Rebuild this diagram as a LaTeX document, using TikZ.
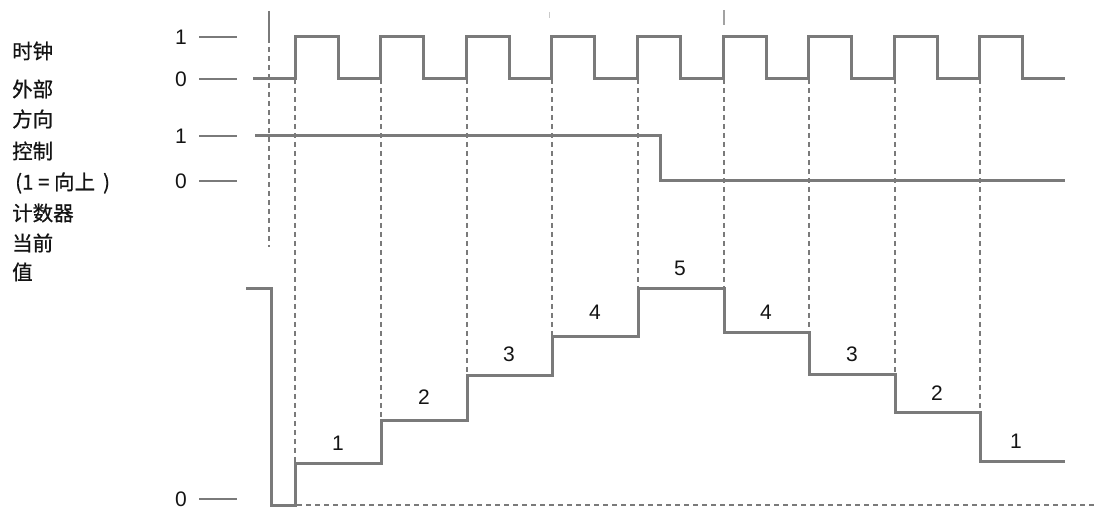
\documentclass[tikz,border=0pt]{standalone}
\usepackage{fontspec}
\setmainfont{Liberation Sans}
\newfontfamily\cjk[FakeBold=0.7]{Noto Sans CJK SC}
\usetikzlibrary{positioning}
\definecolor{sigray}{HTML}{7A7A7A}
\definecolor{txtblack}{HTML}{141414}

\begin{document}
\begin{tikzpicture}[x=1pt,y=-1pt,
  signal/.style={draw=sigray,line width=3pt},
  levelmark/.style={draw=sigray,line width=1.3pt},
  guide/.style={draw=sigray,line width=1.2pt,dash pattern=on 5pt off 4pt},
  caption/.style={anchor=west,font=\cjk\fontsize{20.5}{24}\selectfont,text=txtblack,inner sep=0pt},
  lvl/.style={font=\fontsize{21}{24}\selectfont,text=txtblack,inner sep=0pt},
]
  \useasboundingbox (0,0) rectangle (1095,510);
  % signal names on the left
  \node[caption] (clk)   at (12,51)  {时钟};
  \node[caption] (ext)   at (12,89)  {外部};
  \node[caption] (dir)   at (12,119) {方向};
  \node[caption] (ctl)   at (12,151) {控制};
  \node[caption] (up)    at (15,183) {(1 = 向上\ \,)};
  \node[caption] (cnt)   at (12,213) {计数器};
  \node[caption] (cur)   at (12,243) {当前};
  \node[caption] (val)   at (12,272) {值};
  % level marks
  \node[lvl] (clkhi) at (181,37)  {1};
  \node[lvl] (clklo) at (181,79)  {0};
  \node[lvl] (dirhi) at (181,136) {1};
  \node[lvl] (dirlo) at (181,181) {0};
  \node[lvl] (cntlo) at (181,499) {0};
  \foreach \n in {clkhi,clklo,dirhi,dirlo,cntlo}
    \draw[levelmark] ([xshift=12pt]\n.east) -- ++(38,0);
  % start marker and small ticks
  \draw[levelmark] (269,11) -- (269,38);
  \draw[guide] (269,38) -- (269,247);
  \draw[levelmark,sigray!70] (724,10) -- (724,25);
  \draw[levelmark,sigray!40,line width=0.8pt] (549,12) -- (549,18);
  % clock
  \draw[signal] (253,79) foreach \i in {0,...,8} {
      -- ({295+85.6*\i},79) -- ({295+85.6*\i},37)
      -- ({338+85.6*\i},37) -- ({338+85.6*\i},79) } -- (1065,79);
  % direction
  \draw[signal] (255,136) -- (660,136) -- (660,181) -- (1065,181);
  % counter
  \draw[signal] (246,289) -- (271,289) -- (271,505) -- (295,505) -- (295,463)
    -- (381,463) -- (381,420) -- (467,420) -- (467,376) -- (552,376)
    -- (552,337) -- (638,337) -- (638,289) -- (724,289) -- (724,333)
    -- (809,333) -- (809,375) -- (895,375) -- (895,413) -- (980,413)
    -- (980,461) -- (1065,461);
  \draw[guide] (297,505) -- (1095,505);
  \foreach \xe/\ye in {295/463,381/420,467/376,552/337,638/289,724/289,809/333,895/375,980/413}
    \draw[guide] (\xe,79) -- (\xe,\ye);
  \foreach \xe/\ye/\n [count=\k] in {338/443/1,424/397/2,509/354/3,595/312/4,680/268/5,766/312/4,852/354/3,937/393/2,1016/441/1}
    \node[lvl] (step\k) at (\xe,\ye) {\n};
\end{tikzpicture}
\end{document}
